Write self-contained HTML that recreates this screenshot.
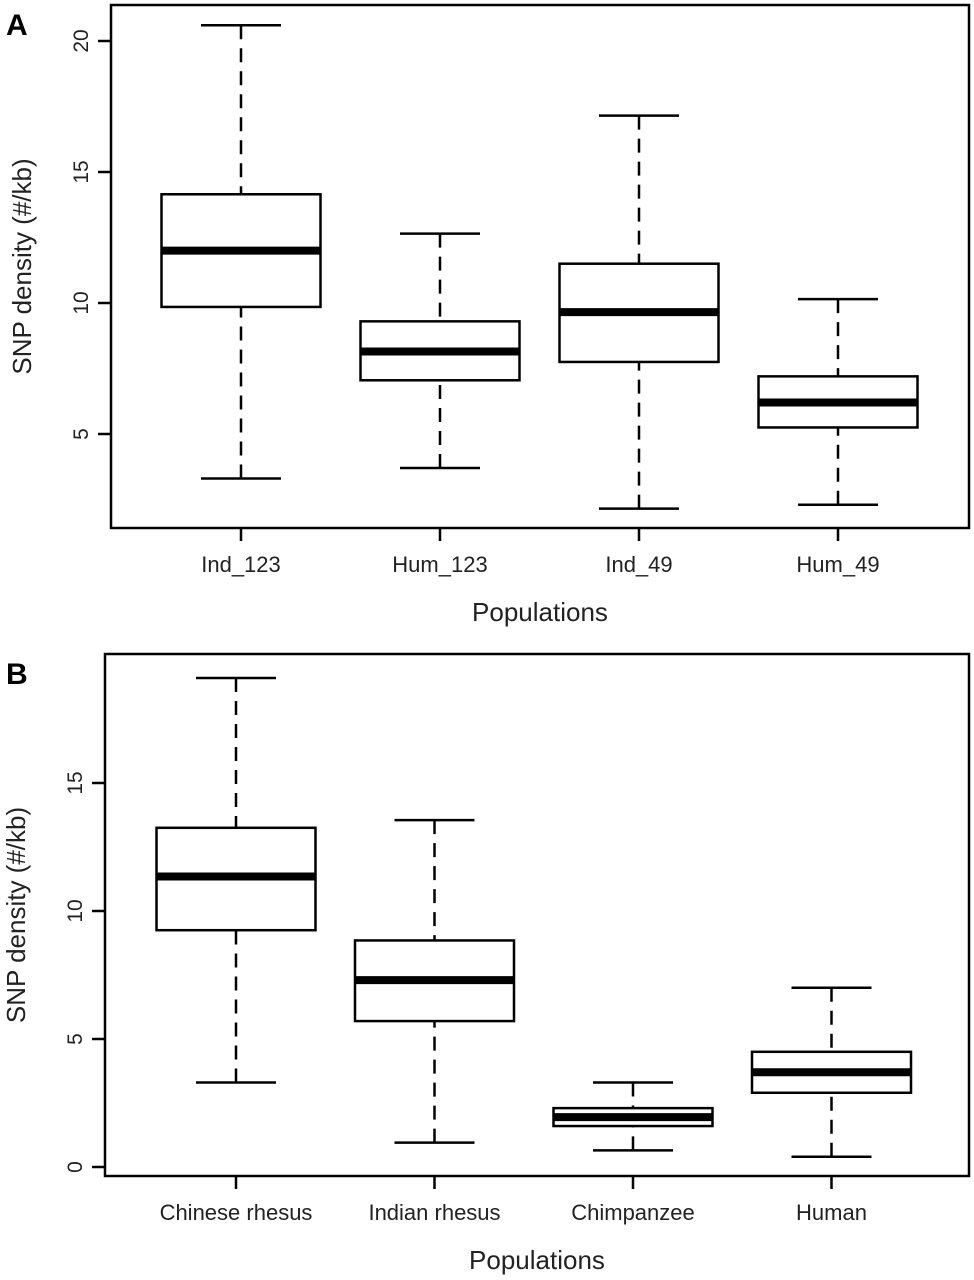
<!DOCTYPE html>
<html><head><meta charset="utf-8"><style>
body{margin:0;background:#fff}
svg{display:block;font-family:"Liberation Sans",Arial,sans-serif}
</style></head><body>
<svg id="chart" width="974" height="1280" viewBox="0 0 974 1280"></svg>
<script>
// Panel A data
const catsA=["Ind_123","Hum_123","Ind_49","Hum_49"];
const loA=[3.3,3.7,2.15,2.3];
const q1A=[9.85,7.05,7.75,5.25];
const medA=[12.0,8.15,9.65,6.2];
const q3A=[14.15,9.3,11.5,7.2];
const hiA=[20.6,12.65,17.15,10.15];
const ticksA=[5,10,15,20];
// Panel B data
const catsB=["Chinese rhesus","Indian rhesus","Chimpanzee","Human"];
const loB=[3.3,0.95,0.65,0.4];
const q1B=[9.25,5.7,1.6,2.9];
const medB=[11.35,7.3,1.95,3.7];
const q3B=[13.25,8.85,2.3,4.5];
const hiB=[19.1,13.55,3.3,7.0];
const ticksB=[0,5,10,15];

const svg=document.getElementById('chart');
const NS="http://www.w3.org/2000/svg";
function mk(tag,attrs,parent){const e=document.createElementNS(NS,tag);for(const k in attrs)e.setAttribute(k,attrs[k]);(parent||svg).appendChild(e);return e;}

function panel(cfg){
  const g=mk('g',{});
  
  
  const y=v=>cfg.y0-(v-cfg.v0)*cfg.ppu;
  const x=i=>cfg.c0+cfg.step*i;
  const frame=mk('rect',{x:cfg.left,y:cfg.top,width:cfg.right-cfg.left,height:cfg.bottom-cfg.top,fill:'none',stroke:'#000','stroke-width':2.5},g);
  
  
  cfg.ticks.forEach(t=>{
    const tk=mk('line',{x1:cfg.left-13,x2:cfg.left,y1:y(t),y2:y(t),stroke:'#000','stroke-width':2.5},g);
    
    
    const tx=mk('text',{x:0,y:0,transform:`translate(${cfg.left-23},${y(t)}) rotate(-90)`,'text-anchor':'middle','font-size':21,fill:'#222'},g);
    tx.textContent=t;
    
    
  });
  const yt=mk('text',{x:0,y:0,transform:`translate(${cfg.left-80},${(cfg.top+cfg.bottom)/2}) rotate(-90)`,'text-anchor':'middle','font-size':26,fill:'#222'},g);
  yt.textContent='SNP density (#/kb)';
  
  
  const xt=mk('text',{x:(cfg.left+cfg.right)/2,y:cfg.bottom+93,'text-anchor':'middle','font-size':26,fill:'#222'},g);
  xt.textContent='Populations';
  
  
  const pl=mk('text',{x:6,y:cfg.top+30,'font-size':30,'font-weight':'bold',fill:'#000'},g);
  pl.textContent=cfg.label;
  
  
  const hw=79.5, cw=40;
  cfg.cats.forEach((c,i)=>{
    const cx=x(i);
    const bg=mk('g',{},g);
    
    
    mk('line',{x1:cx,x2:cx,y1:y(cfg.hi[i]),y2:y(cfg.q3[i]),stroke:'#000','stroke-width':2.5,'stroke-dasharray':'14 9'},bg);
    mk('line',{x1:cx,x2:cx,y1:y(cfg.lo[i]),y2:y(cfg.q1[i]),stroke:'#000','stroke-width':2.5,'stroke-dasharray':'14 9'},bg);
    mk('line',{x1:cx-cw,x2:cx+cw,y1:y(cfg.hi[i]),y2:y(cfg.hi[i]),stroke:'#000','stroke-width':2.5},bg);
    mk('line',{x1:cx-cw,x2:cx+cw,y1:y(cfg.lo[i]),y2:y(cfg.lo[i]),stroke:'#000','stroke-width':2.5},bg);
    mk('rect',{x:cx-hw,y:y(cfg.q3[i]),width:2*hw,height:y(cfg.q1[i])-y(cfg.q3[i]),fill:'#fff',stroke:'#000','stroke-width':2.5},bg);
    mk('line',{x1:cx-hw,x2:cx+hw,y1:y(cfg.med[i]),y2:y(cfg.med[i]),stroke:'#000','stroke-width':8},bg);
    const tk=mk('line',{x1:cx,x2:cx,y1:cfg.bottom,y2:cfg.bottom+13,stroke:'#000','stroke-width':2.5},g);
    
    
    const lb=mk('text',{x:cx,y:cfg.bottom+44,'text-anchor':'middle','font-size':22,fill:'#222'},g);
    lb.textContent=c;
    
    
  });
}
panel({name:'panel-a',label:'A',left:111,right:969,top:5,bottom:528,y0:434,v0:5,ppu:26.2,c0:241,step:199,
  cats:catsA,lo:loA,q1:q1A,med:medA,q3:q3A,hi:hiA,ticks:ticksA});
panel({name:'panel-b',label:'B',left:105,right:969,top:654,bottom:1176,y0:1167,v0:0,ppu:25.6,c0:236,step:198.5,
  cats:catsB,lo:loB,q1:q1B,med:medB,q3:q3B,hi:hiB,ticks:ticksB});
</script>
</body></html>
